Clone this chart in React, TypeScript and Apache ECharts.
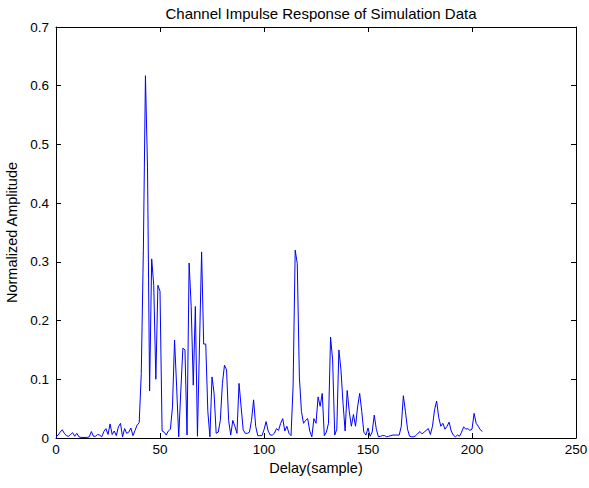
import React, { useEffect, useRef } from "react";
import * as echarts from "echarts";

const titleText = "Channel Impulse Response of Simulation Data";
const xName = "Delay(sample)";
const yName = "Normalized Amplitude";
const xTicks = { min: 0, max: 250, interval: 50 };
const yTicks = { min: 0, max: 0.7, interval: 0.1 };

// amplitude per delay sample, starting at sample 0
const amplitudes: number[] = [
  0.002, 0.005, 0.010, 0.014, 0.008, 0.004, 0.003, 0.006, 0.009, 0.003,
  0.008, 0.002, 0.001, 0.001, 0.001, 0.001, 0.002, 0.011, 0.003, 0.003,
  0.006, 0.005, 0.002, 0.011, 0.016, 0.006, 0.024, 0.006, 0.012, 0.004,
  0.019, 0.025, 0.002, 0.016, 0.008, 0.010, 0.017, 0.004, 0.013, 0.022,
  0.026, 0.11, 0.32, 0.617, 0.46, 0.08, 0.305, 0.26, 0.10, 0.26,
  0.25, 0.012, 0.01, 0.005, 0.012, 0.015, 0.053, 0.167, 0.087, 0.002,
  0.08, 0.153, 0.15, 0.005, 0.298, 0.224, 0.09, 0.224, 0.003, 0.16,
  0.317, 0.16, 0.16, 0.045, 0.002, 0.104, 0.076, 0.008, 0.01, 0.03,
  0.093, 0.124, 0.116, 0.03, 0.005, 0.03, 0.02, 0.008, 0.093, 0.053,
  0.014, 0.008, 0.008, 0.01, 0.03, 0.065, 0.02, 0.004, 0.004, 0.004,
  0.014, 0.028, 0.012, 0.005, 0.005, 0.008, 0.016, 0.013, 0.025, 0.033,
  0.012, 0.02, 0.008, 0.004, 0.09, 0.32, 0.297, 0.104, 0.045, 0.025,
  0.03, 0.033, 0.012, 0.002, 0.033, 0.025, 0.07, 0.054, 0.076, 0.004,
  0.01, 0.025, 0.172, 0.133, 0.005, 0.015, 0.15, 0.116, 0.059, 0.012,
  0.081, 0.045, 0.02, 0.04, 0.02, 0.053, 0.076, 0.045, 0.01, 0.005,
  0.017, 0.003, 0.01, 0.039, 0.015, 0.002, 0.003, 0.004, 0.004, 0.002,
  0.003, 0.004, 0.005, 0.005, 0.005, 0.005, 0.02, 0.072, 0.045, 0.015,
  0.003, 0.002, 0.002, 0.004, 0.008, 0.011, 0.007, 0.010, 0.013, 0.016,
  0.006, 0.02, 0.048, 0.063, 0.035, 0.02, 0.025, 0.015, 0.02, 0.027,
  0.012, 0.005, 0.002, 0.005, 0.003, 0.01, 0.019, 0.015, 0.016, 0.013,
  0.015, 0.042, 0.025, 0.02, 0.014, 0.011,
];

const FONT = "'Liberation Sans', Arial, Helvetica, sans-serif";

export default function App() {
  const ref = useRef<HTMLDivElement>(null);
  useEffect(() => {
    if (!ref.current) return;
    const chart = echarts.init(ref.current, null, { renderer: "svg" });
    const axisCommon = {
      axisLine: { show: true, onZero: false, lineStyle: { color: "#000", width: 1 } },
      axisTick: { show: true, inside: true, length: 5, lineStyle: { color: "#000" } },
      splitLine: { show: false },
    };
    chart.setOption({
      animation: false,
      backgroundColor: "#fff",
      textStyle: { fontFamily: FONT },
      title: {
        text: titleText,
        left: 316,
        textAlign: "center",
        top: 1,
        textStyle: { fontSize: 15, fontWeight: "normal", color: "#000", fontFamily: FONT },
      },
      grid: { left: 56, right: 13, top: 27, bottom: 50, containLabel: false, outerBoundsMode: "none" },
      xAxis: [
        {
          type: "value",
          ...xTicks,
          position: "bottom",
          name: xName,
          nameLocation: "middle",
          nameGap: 21,
          nameTextStyle: { fontSize: 14.5, color: "#000", fontFamily: FONT },
          axisLabel: { fontSize: 13.5, color: "#000", margin: 4, fontFamily: FONT },
          ...axisCommon,
        },
        {
          type: "value",
          ...xTicks,
          position: "top",
          axisLabel: { show: false },
          ...axisCommon,
        },
      ],
      yAxis: [
        {
          type: "value",
          ...yTicks,
          position: "left",
          name: yName,
          nameLocation: "middle",
          nameGap: 34,
          nameTextStyle: { fontSize: 14.5, color: "#000", fontFamily: FONT },
          axisLabel: { fontSize: 13.5, color: "#000", margin: 7, fontFamily: FONT },
          ...axisCommon,
        },
        {
          type: "value",
          ...yTicks,
          position: "right",
          axisLabel: { show: false },
          ...axisCommon,
        },
      ],
      series: [
        {
          type: "line",
          data: amplitudes.map((a, i) => [i, a]),
          showSymbol: false,
          lineStyle: { color: "#0000ff", width: 1 },
          itemStyle: { color: "#0000ff" },
        },
      ],
    });
    return () => chart.dispose();
  }, []);
  return <div ref={ref} style={{ width: 589, height: 488, position: "absolute", left: 0, top: 0 }} />;
}
